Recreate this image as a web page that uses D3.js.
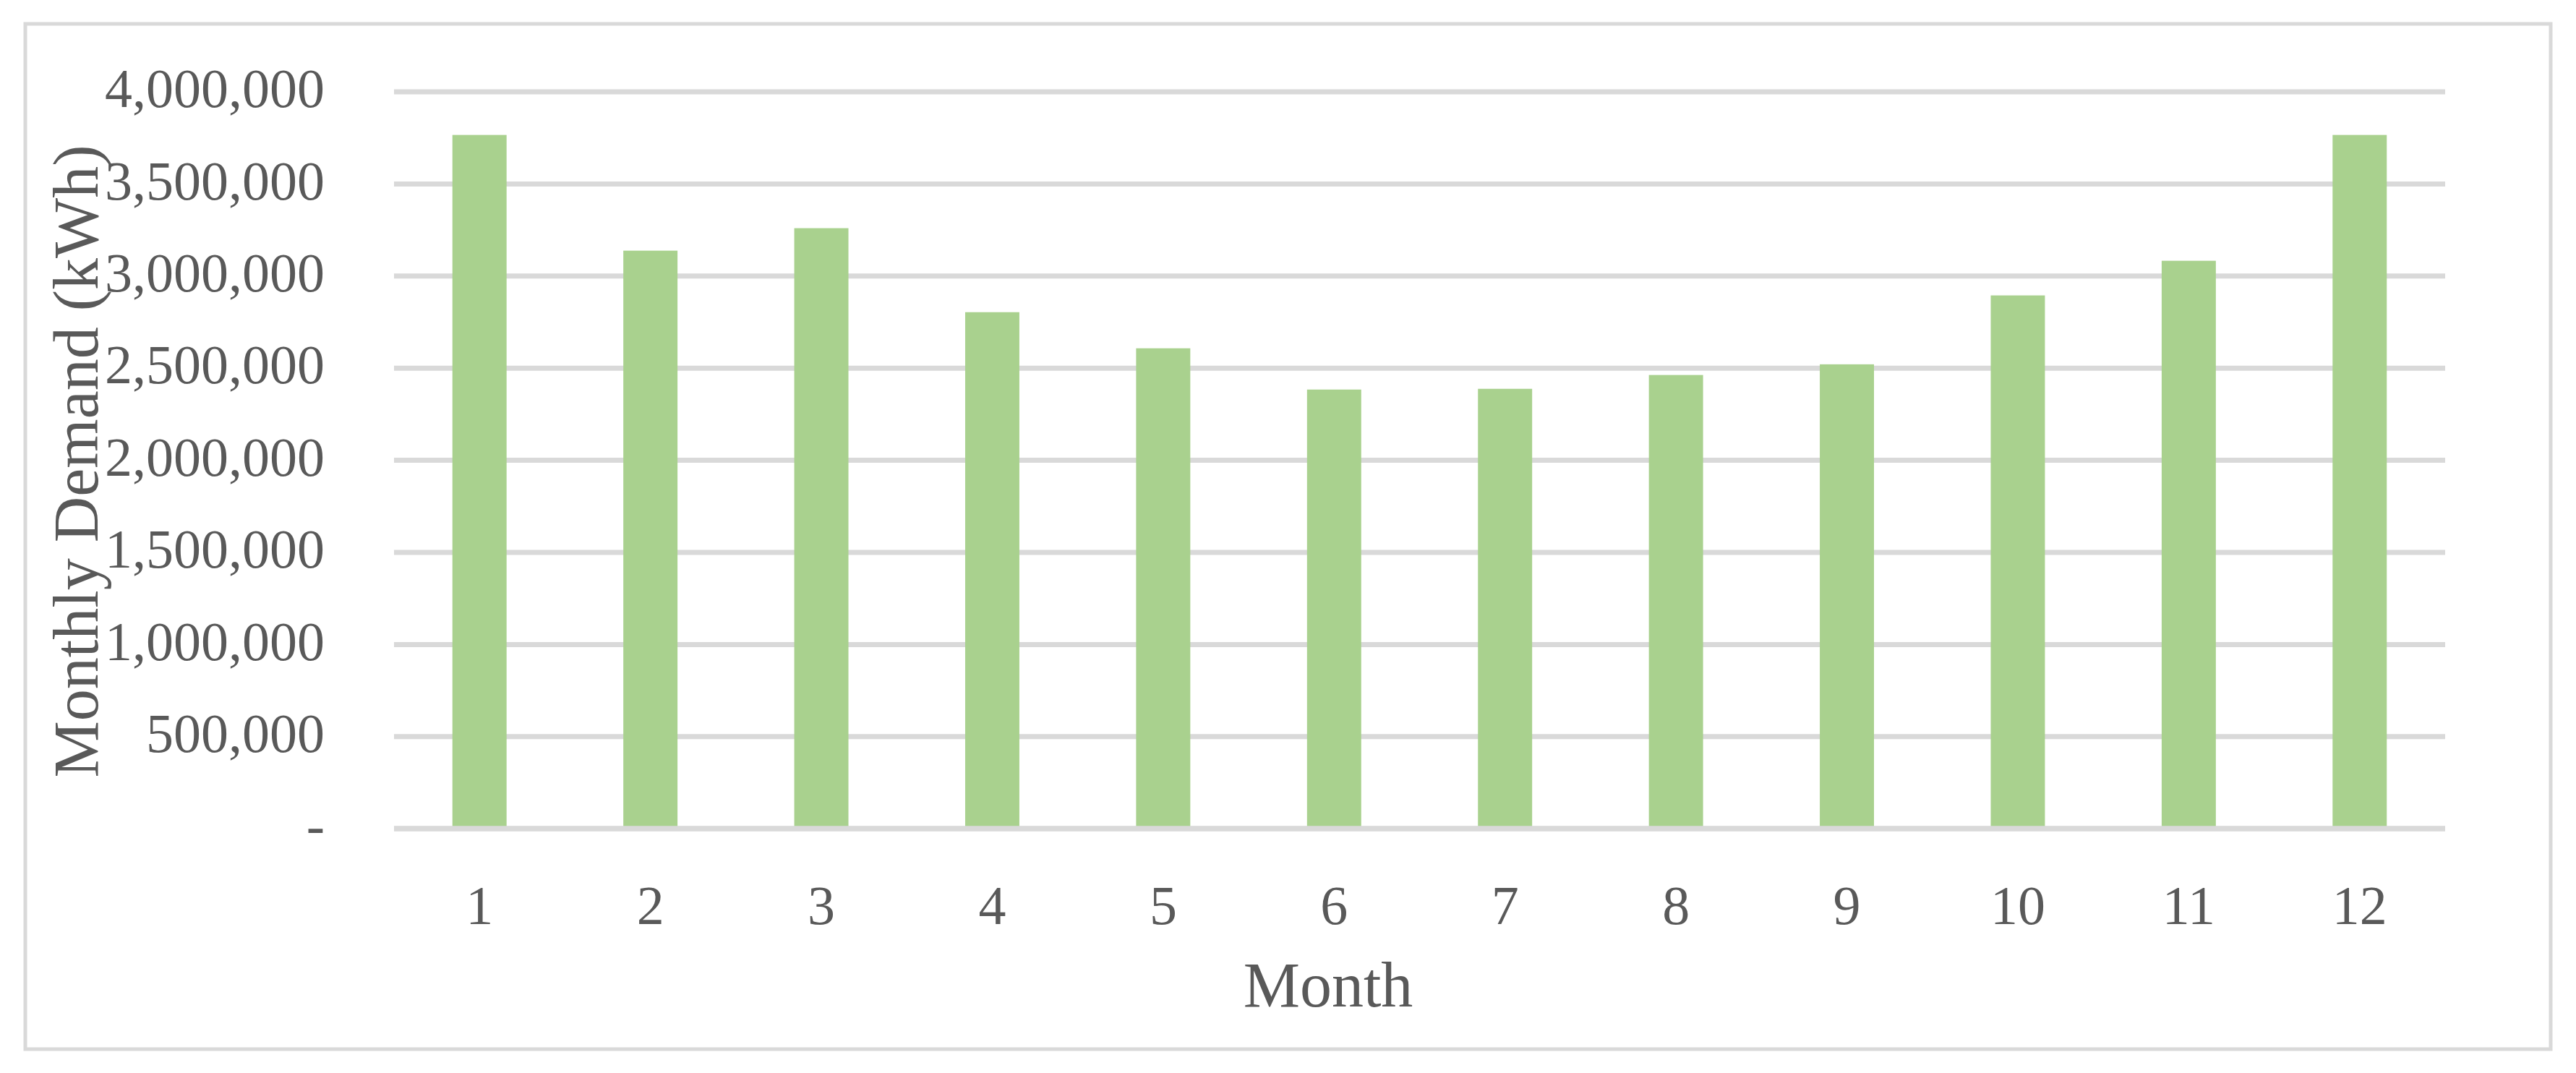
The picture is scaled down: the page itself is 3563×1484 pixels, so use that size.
<!DOCTYPE html>
<html>
<head>
<meta charset="utf-8">
<script src="https://cdn.jsdelivr.net/npm/d3@7"></script>
<style>
	body{margin:0;background:#fff;}
	text{font-family:"Palatino Linotype","Book Antiqua",Palatino,"Liberation Serif",serif;fill:#595959;}
</style>
</head>
<body>
<script>
//monthly demand bar chart

//data
var months = [1, 2, 3, 4, 5, 6, 7, 8, 9, 10, 11, 12];
var demand = [3764000, 3136000, 3258000, 2802000, 2606000, 2382000, 2386000, 2461000, 2519000, 2893000, 3081000, 3764000];
var yTicks = [0, 500000, 1000000, 1500000, 2000000, 2500000, 3000000, 3500000, 4000000];
var xTitle = "Month",
	yTitle = "Monthly Demand (kWh)";

//frame
var width = 3563,
	height = 1484,
	plotLeft = 545,
	plotRight = 3382,
	plotTop = 126.5,
	plotBottom = 1145.7;

var svg = d3.select("body")
	.append("svg")
	.attr("width", width)
	.attr("height", height);

//chart border
svg.append("rect")
	.attr("x", 35)
	.attr("y", 33)
	.attr("width", 3493)
	.attr("height", 1418)
	.attr("fill", "#fff")
	.attr("stroke", "#d9d9d9")
	.attr("stroke-width", 5);

var xScale = d3.scaleBand()
	.domain(months)
	.range([plotLeft, plotRight])
	.paddingInner(0.683)
	.paddingOuter(0.3415);

var yScale = d3.scaleLinear()
	.domain([0, 4000000])
	.range([plotBottom, plotTop]);

var fmt = d3.format(",");

//gridlines + y labels
var yAxis = d3.axisLeft(yScale)
	.tickValues(yTicks)
	.tickSize(-(plotRight - plotLeft))
	.tickPadding(96)
	.tickFormat(function(d){ return d === 0 ? "-" : fmt(d); });

var yg = svg.append("g")
	.attr("class", "yaxis")
	.attr("transform", "translate(" + plotLeft + ",0)")
	.call(yAxis);

yg.select(".domain").remove();
yg.selectAll(".tick line")
	.attr("stroke", "#d9d9d9")
	.attr("stroke-width", 7);
yg.selectAll(".tick text")
	.attr("font-size", 76)
	.attr("dy", "0.28em")
	.style("font-family", null)
	.attr("fill", "#595959");
yg.attr("font-family", null);

//bars
svg.selectAll(".bar")
	.data(demand)
	.enter()
	.append("rect")
	.attr("class", "bar")
	.attr("x", function(d, i){ return xScale(months[i]); })
	.attr("width", xScale.bandwidth())
	.attr("y", function(d){ return yScale(d); })
	.attr("height", function(d){ return yScale(0) - yScale(d); })
	.attr("fill", "#a9d18e");

//x axis (baseline on top of bars)
var xAxis = d3.axisBottom(xScale)
	.tickSize(0)
	.tickPadding(132);

var xg = svg.append("g")
	.attr("class", "xaxis")
	.attr("transform", "translate(0," + plotBottom + ")")
	.call(xAxis);

xg.attr("font-family", null);
xg.select(".domain").remove();
xg.append("line")
	.attr("x1", plotLeft)
	.attr("x2", plotRight)
	.attr("stroke", "#d9d9d9")
	.attr("stroke-width", 7);
xg.selectAll(".tick text")
	.attr("font-size", 76)
	.attr("dy", 0)
	.attr("fill", "#595959");

//axis titles
svg.append("text")
	.attr("x", 1837)
	.attr("y", 1392)
	.attr("text-anchor", "middle")
	.attr("font-size", 88)
	.text(xTitle);

svg.append("text")
	.attr("transform", "translate(135,638) rotate(-90)")
	.attr("text-anchor", "middle")
	.attr("font-size", 88)
	.text(yTitle);
</script>
</body>
</html>
